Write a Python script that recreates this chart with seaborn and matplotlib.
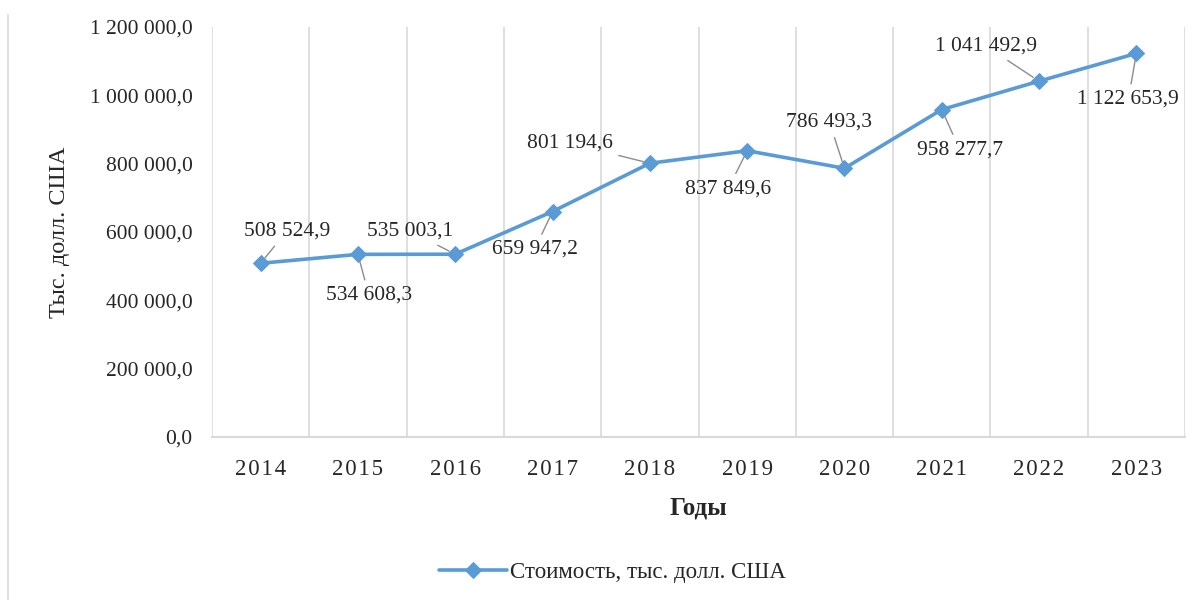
import numpy as np
import pandas as pd
import matplotlib
matplotlib.use('Agg')
import matplotlib.pyplot as plt
from matplotlib.lines import Line2D
from matplotlib.ticker import FuncFormatter, MultipleLocator
import seaborn as sns

# данные
years = ['2014', '2015', '2016', '2017', '2018', '2019', '2020', '2021', '2022', '2023']
cost = [508524.9, 534608.3, 535003.1, 659947.2, 801194.6,
        837849.6, 786493.3, 958277.7, 1041492.9, 1122653.9]
series_name = 'Стоимость, тыс. долл. США'
y_label = 'Тыс. долл. США'
x_label = 'Годы'

# смещения подписей (пиксели) относительно маркера
label_offsets = [(26, 32), (11, -41), (-45, 23), (-18, -38), (-80, 20),
                 (-19, -38), (-15, 46), (18, -40), (-53, 35), (-8, -46)]

sns.set_theme(style='white')
plt.rcParams['font.family'] = ['Liberation Serif', 'DejaVu Serif']

blue = '#5B9BD5'
grid_c = '#D9D9D9'
txt_c = '#262626'


def fmt_num(v, decimals=1):
    s = f'{v:,.{decimals}f}'
    return s.replace(',', ' ').replace('.', ',')


df = pd.DataFrame({'year': years, 'cost': cost})
df['x'] = np.arange(len(df))

fig = plt.figure(figsize=(12.03, 6.0), dpi=100)
ax = fig.add_axes([212 / 1203, 163 / 600, (1185 - 212) / 1203, (437 - 27) / 600])

sns.lineplot(data=df, x='x', y='cost', ax=ax, color=blue, lw=2.6,
             marker='D', markersize=8.5, markeredgecolor=blue, label=series_name)

ax.set_xlim(-0.5, len(df) - 0.5)
ax.set_ylim(0, 1200000)
ax.yaxis.set_major_locator(MultipleLocator(200000))
ax.yaxis.set_major_formatter(FuncFormatter(lambda v, p: fmt_num(v)))
ax.set_xticks(df['x'])
ax.set_xticklabels(['\u200a'.join(list(y)) for y in years])
ax.set_xticks(np.arange(-0.5, len(df)), minor=True)
ax.grid(False)
ax.grid(which='minor', axis='x', color=grid_c, lw=1.2)
ax.tick_params(axis='x', which='both', length=0, pad=16, labelsize=16.5, labelcolor=txt_c)
ax.tick_params(axis='y', length=0, pad=14, labelsize=15.5, labelcolor=txt_c)

for s in ['top', 'right', 'left']:
    ax.spines[s].set_visible(False)
ax.spines['bottom'].set_color(grid_c)
ax.spines['bottom'].set_linewidth(1.5)

ax.set_ylabel(y_label, fontsize=17.5, color=txt_c, labelpad=14)
ax.set_xlabel(x_label, fontsize=18, color=txt_c, fontweight='bold', labelpad=12)

# подписи данных с выносками
for i, (xv, yv) in enumerate(zip(df['x'], df['cost'])):
    dx, dy = label_offsets[i]
    ax.annotate(fmt_num(yv), xy=(xv, yv), xytext=(dx, dy), textcoords='offset pixels',
                ha='center', va='center', fontsize=15.5, color=txt_c,
                arrowprops=dict(arrowstyle='-', color='#8C8C8C', lw=1.0,
                                shrinkA=2, shrinkB=5))

leg = ax.legend(loc='center', bbox_to_anchor=(612 / 1203, 28 / 600),
                bbox_transform=fig.transFigure, frameon=False, fontsize=16.5,
                handlelength=3.0, handletextpad=0.1)
for t in leg.get_texts():
    t.set_color(txt_c)

# левая рамка
fig.add_artist(Line2D([8 / 1203, 8 / 1203], [0, 585 / 600], transform=fig.transFigure,
                      color=grid_c, lw=1.2))

fig.savefig('out.png', dpi=100, facecolor='white')
